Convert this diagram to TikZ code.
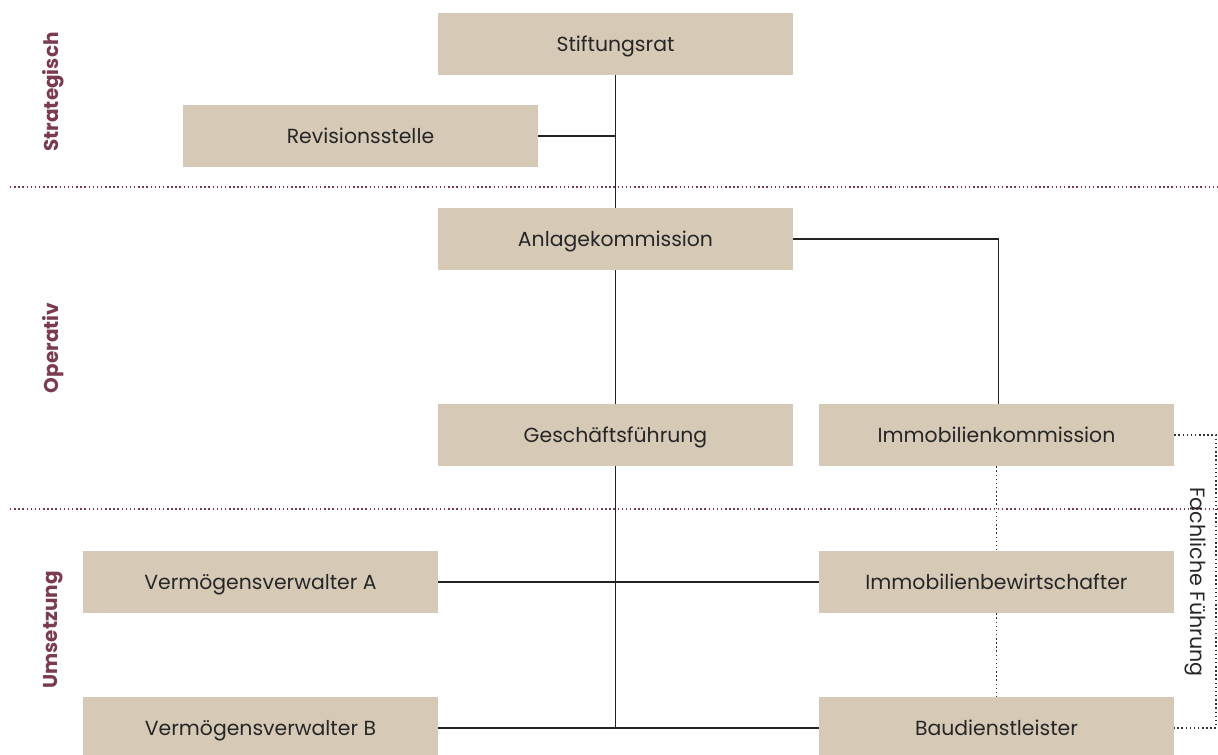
\documentclass[tikz,border=0pt]{standalone}
\usepackage{fontspec}
\setmainfont{Poppins}
\definecolor{boxc}{RGB}{214,202,183}
\definecolor{purp}{RGB}{122,59,82}
\definecolor{linec}{RGB}{35,35,35}
\begin{document}
\begin{tikzpicture}[x=0.75pt,y=-0.75pt,
  box/.style={fill=boxc,minimum width=355*0.75pt,minimum height=62*0.75pt,inner sep=0pt,text height=10.6pt,text depth=0pt,font=\fontsize{15.3}{17}\selectfont,text=black!85},
  conn/.style={draw=linec,line width=1.4pt},
  dotc/.style={draw=black!80,line width=1.1pt,dotted},
  sep/.style={draw=purp,line width=1.1pt,dotted},
  lvl/.style={rotate=90,text=purp,font=\fontsize{15}{17}\selectfont\bfseries}]
\useasboundingbox (0,0) rectangle (1218,755);
\node[box] (sr) at (615.5,44) {Stiftungsrat};
\node[box] (rv) at (360.5,136) {Revisionsstelle};
\node[box] (ak) at (615.5,239) {Anlagekommission};
\node[box] (gf) at (615.5,435) {Geschäftsführung};
\node[box] (ik) at (996.5,435) {Immobilienkommission};
\node[box] (va) at (260.5,582) {Vermögensverwalter A};
\node[box] (ib) at (996.5,582) {Immobilienbewirtschafter};
\node[box] (vb) at (260.5,728) {Vermögensverwalter B};
\node[box] (bd) at (996.5,728) {Baudienstleister};
% separators
\coordinate (s1a) at (10,187); \coordinate (s1b) at (1218,187);
\coordinate (s2a) at (10,509); \coordinate (s2b) at (1218,509);
\draw[sep] (s1a) -- (s1b);
\draw[sep] (s2a) -- (s2b);
% level labels
\node[lvl] (l1) at (53,92) {Strategisch};
\node[lvl] (l2) at (53,348) {Operativ};
\node[lvl] (l3) at (53,630) {Umsetzung};
% connectors
\coordinate (j1) at (sr.south |- rv.east);
\coordinate (j3) at (sr.south |- vb.east);
\draw[conn] (sr.south) -- (ak.north);
\draw[conn] (rv.east) -- (j1);
\draw[conn] (ak.south) -- (gf.north);
\draw[conn] (gf.south) -- (j3);
\draw[conn] (va.east) -- (ib.west);
\draw[conn] (vb.east) -- (bd.west);
\coordinate (akr) at (998.5,239);
\draw[conn] (ak.east) -- (akr) -- (akr |- ik.north);
% dotted
\draw[dotc] (ik.south) -- (ib.north);
\draw[dotc] (ib.south) -- (bd.north);
\coordinate (rt) at (1216,435);
\coordinate (rb) at (1216,728);
\draw[dotc] (ik.east) -- (rt) -- (rb) -- (bd.east);
\node[rotate=-90,font=\fontsize{15.5}{17}\selectfont,text=black!85] (ff) at (1196,582) {Fachliche Führung};
\end{tikzpicture}
\end{document}
